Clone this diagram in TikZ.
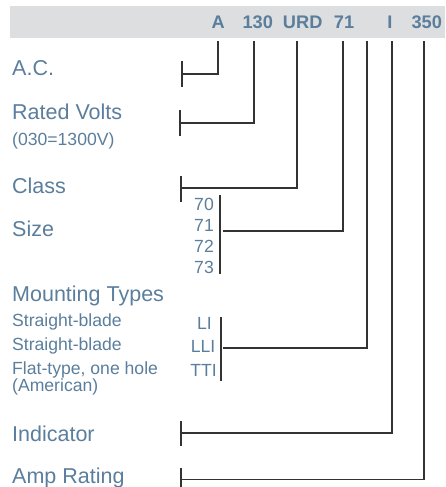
\documentclass[tikz,border=0pt]{standalone}
\usepackage{fontspec}
\setmainfont{Liberation Sans}
\definecolor{txt}{HTML}{5A7E9C}
\definecolor{bar}{HTML}{DCDEE0}
\definecolor{ln}{HTML}{333333}
\begin{document}
\begin{tikzpicture}[x=1pt,y=-1pt,
 main/.style={anchor=base west,inner sep=0,text=txt,font=\fontsize{21.5}{25}\selectfont},
 sub/.style={anchor=base west,inner sep=0,text=txt,font=\fontsize{17.6}{21}\selectfont},
 code/.style={anchor=base east,inner sep=0,text=txt,font=\fontsize{17.6}{21}\selectfont},
 head/.style={anchor=base,inner sep=0,text=txt,font=\fontsize{18.2}{22}\selectfont\bfseries},
 conn/.style={draw=ln,line width=1.1pt},
]
\useasboundingbox (0,0) rectangle (445,487);
\fill[bar] (10,6) rectangle (445,38.3);
% header codes
\node[head] (hA) at (218.3,28.3) {A};
\node[head] (h130) at (257.7,28.3) {130};
\node[head] (hURD) at (302.7,28.3) {URD};
\node[head] (h71) at (344,28.3) {71};
\node[head] (hI) at (390,28.3) {I};
\node[head] (h350) at (426.7,28.3) {350};
% left labels
\node[main] (lAC) at (12,75) {A.C.};
\node[main] (lRV) at (12,119.3) {Rated Volts};
\node[sub] (lRVn) at (12,145.7) {(030=1300V)};
\node[main] (lCl) at (12,193.3) {Class};
\node[main] (lSz) at (12,236.7) {Size};
\node[main] (lMT) at (12,301) {Mounting Types};
\node[sub] (lSB1) at (12,326) {Straight-blade};
\node[sub] (lSB2) at (12,350) {Straight-blade};
\node[sub] (lFT) at (12,374.3) {Flat-type, one hole};
\node[sub] (lAm) at (12,391) {(American)};
\node[main] (lInd) at (12,441.7) {Indicator};
\node[main] (lAmp) at (12,483.5) {Amp Rating};
% size codes
\node[code] (s70) at (214,210) {70};
\node[code] (s71) at (214,231) {71};
\node[code] (s72) at (214,252.3) {72};
\node[code] (s73) at (214,273.3) {73};
% mounting codes
\node[code] (mLI) at (212,329.3) {LI};
\node[code] (mLLI) at (215.5,352.7) {LLI};
\node[code] (mTTI) at (217,376.7) {TTI};
% connector tops
\coordinate (tA) at (218,41);
\coordinate (t130) at (254,41);
\coordinate (tURD) at (297,41);
\coordinate (t71) at (343,41);
\coordinate (tM) at (367,41);
\coordinate (tI) at (392,41);
\coordinate (t350) at (424,41);
% connector ends
\coordinate (eA) at (182,74);
\coordinate (e130) at (180,123);
\coordinate (eURD) at (181,188);
\coordinate (e71) at (222.5,231);
\coordinate (eM) at (222.5,348);
\coordinate (eI) at (181,433);
\coordinate (e350) at (181,479.5);
% brackets
\coordinate (bS1) at (220,195);
\coordinate (bS2) at (220,274);
\coordinate (bM1) at (221,317);
\coordinate (bM2) at (221,381);
% draw connectors
\draw[conn] (tA) |- (eA);
\draw[conn] (t130) |- (e130);
\draw[conn] (tURD) |- (eURD);
\draw[conn] (t71) |- (e71);
\draw[conn] (tM) |- (eM);
\draw[conn] (tI) |- (eI);
\draw[conn] (t350) |- (e350);
% ticks
\draw[conn] ([yshift=13pt]eA) -- ([yshift=-13pt]eA);
\draw[conn] ([yshift=13pt]e130) -- ([yshift=-13pt]e130);
\draw[conn] ([yshift=12pt]eURD) -- ([yshift=-14pt]eURD);
\draw[conn] ([yshift=12pt]eI) -- ([yshift=-13pt]eI);
\draw[conn] ([yshift=11.5pt]e350) -- ([yshift=-9pt]e350);
\draw[conn] (bS1) -- (bS2);
\draw[conn] (bM1) -- (bM2);
\end{tikzpicture}
\end{document}
